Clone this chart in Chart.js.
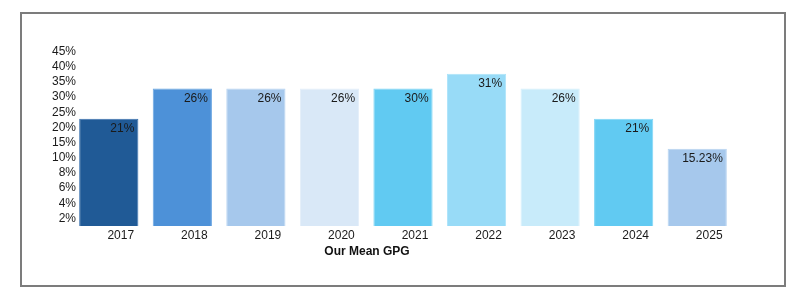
<!DOCTYPE html>
<html>
<head>
<meta charset="utf-8">
<script src="https://cdn.jsdelivr.net/npm/chart.js@4.4.0/dist/chart.umd.min.js"></script>
<style>
  html, body { margin: 0; padding: 0; background: #fff; }
  #wrap { position: relative; width: 800px; height: 304px; }
  #frame {
    position: absolute; left: 20px; top: 12px; width: 766px; height: 275px;
    box-sizing: border-box; border: 2px solid #7c7c7c; pointer-events: none;
  }
  canvas { position: absolute; left: 0; top: 0; }
</style>
</head>
<body>
<div id="wrap">
  <canvas id="myChart" width="800" height="304"></canvas>
  <div id="frame"></div>
</div>
<script>
const years = ['2017', '2018', '2019', '2020', '2021', '2022', '2023', '2024', '2025'];
// bar heights (percent)
const gpg = [21.2, 27.2, 27.2, 27.2, 27.2, 30.1, 27.2, 21.2, 15.3];
// labels printed on the bars
const gpgLabels = ['21%', '26%', '26%', '26%', '30%', '31%', '26%', '21%', '15.23%'];
// tick labels on the left, top to bottom
const yTicks = ['45%', '40%', '35%', '30%', '25%', '20%', '15%', '10%', '8%', '6%', '4%', '2%'];
const fills = ['#205a96', '#4d91d8', '#a6c8ec', '#d9e8f7', '#61caf2', '#98dbf7', '#c8ebfa', '#61caf2', '#a6c8ec'];
const edges = ['#3a72ae', '#6aa6e2', '#b8d4f1', '#e4effa', '#7fd5f5', '#ace3f9', '#d6f0fb', '#7fd5f5', '#b8d4f1'];

const font = 'Arial, "Liberation Sans", sans-serif';

const barText = {
  id: 'barText',
  afterDatasetsDraw(chart) {
    const c = chart.ctx;
    const meta = chart.getDatasetMeta(0);
    c.save();
    c.font = '12px ' + font;
    c.fillStyle = '#1a1a1a';
    c.textAlign = 'right';
    c.textBaseline = 'middle';
    meta.data.forEach((bar, i) => {
      c.fillText(gpgLabels[i], bar.x + bar.width / 2 - 4, bar.y + 10);
    });
    // axis title
    const xs = chart.scales.x;
    c.font = 'bold 12px ' + font;
    c.fillStyle = '#111';
    c.textAlign = 'center';
    c.fillText('Our Mean GPG', (xs.left + xs.right) / 2 - 36, xs.bottom + 6);
    c.restore();
  }
};

const ctx = document.getElementById('myChart');
const myChart = new Chart(ctx, {
  type: 'bar',
  data: {
    labels: years,
    datasets: [{
      data: gpg,
      backgroundColor: fills,
      borderColor: edges,
      borderWidth: 1,
      barPercentage: 0.805,
      categoryPercentage: 1
    }]
  },
  options: {
    responsive: false,
    animation: false,
    layout: { padding: { left: 32, right: 66, top: 44, bottom: 58 } },
    plugins: { legend: { display: false }, tooltip: { enabled: false } },
    scales: {
      x: {
        grid: { display: false, drawTicks: false },
        border: { display: false },
        ticks: { color: '#1a1a1a', font: { family: font, size: 12 }, padding: 2, labelOffset: 12 },
        afterFit(s) { s.height = 20; }
      },
      y: {
        display: false,
        min: 0,
        max: 36
      },
      yc: {
        type: 'category',
        axis: 'y',
        position: 'left',
        labels: yTicks,
        offset: true,
        grid: { display: false, drawTicks: false },
        border: { display: false },
        ticks: {
          color: '#1a1a1a', font: { family: font, size: 12 },
          mirror: true, crossAlign: 'far', padding: -20, autoSkip: false
        },
        afterFit(s) { s.width = 40; }
      }
    }
  },
  plugins: [barText]
});
</script>
</body>
</html>
